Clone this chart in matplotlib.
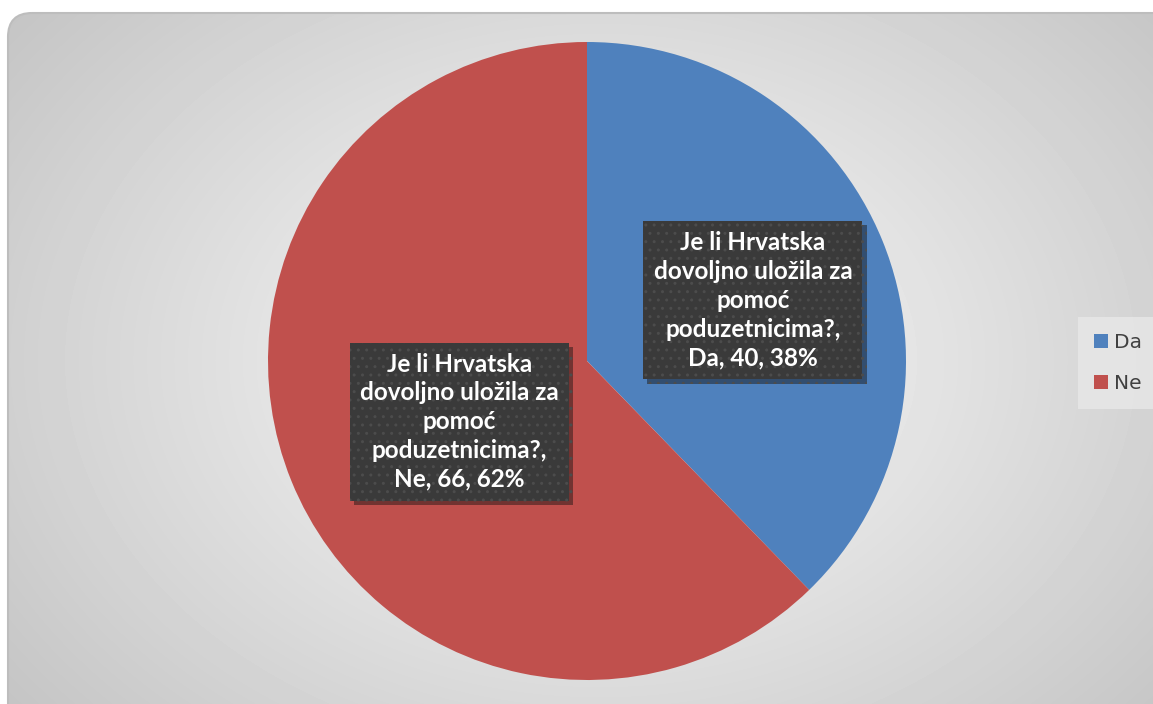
import numpy as np
import matplotlib.pyplot as plt
from matplotlib.patches import FancyBboxPatch
import matplotlib.patheffects as pe

categories = ['Da', 'Ne']
values = [40, 66]
question = 'Je li Hrvatska\ndovoljno uložila za\npomoć\npoduzetnicima?,'
colors = ['#4F81BD', '#C0504D']

W, H = 1153, 704
fig = plt.figure(figsize=(W / 100, H / 100), dpi=100)
fig.patch.set_facecolor('white')

# background: rounded panel with radial grey gradient
bg = fig.add_axes([0, 0, 1, 1])
bg.set_xlim(0, W)
bg.set_ylim(H, 0)
bg.axis('off')
yy, xx = np.mgrid[0:H, 0:W]
r = np.sqrt(((xx - 600) / 700.0) ** 2 + ((yy - 360) / 520.0) ** 2)
g = np.clip(0.985 - 0.2 * r, 0.75, 1)
img = bg.imshow(g, cmap='gray', vmin=0, vmax=1, extent=(0, W, H, 0), zorder=1)
panel = FancyBboxPatch((8, 13), W + 40, H + 40, boxstyle='round,pad=0,rounding_size=24',
                       fc='none', ec='#bdbdbd', lw=1.5, zorder=2)
bg.add_patch(panel)
img.set_clip_path(panel)

# pie
cx, cy, rad = 587, 361, 319
ax = fig.add_axes([(cx - rad) / W, (H - cy - rad) / H, 2 * rad / W, 2 * rad / H])
ax.set_zorder(3)
ax.patch.set_alpha(0)
wedges, _ = ax.pie(values, colors=colors, startangle=90, counterclock=False,
                   wedgeprops=dict(linewidth=0))
ax.set_xlim(-1, 1)
ax.set_ylim(-1, 1)
ax.set_aspect('equal')

total = sum(values)
label_pos = [(0.52, 0.19), (-0.40, -0.19)]
for cat, v, (lx, ly) in zip(categories, values, label_pos):
    pct = round(100 * v / total)
    t = ax.text(lx, ly, f'{question}\n{cat}, {v}, {pct}%', ha='center', va='center',
                color='white', fontsize=17.5, fontweight='bold', family='Lato',
                linespacing=1.3,
                bbox=dict(boxstyle='square,pad=0.42', fc='#3a3a3a', ec='#4c4c4c',
                          lw=0, hatch='..'))
    t.get_bbox_patch().set_path_effects([pe.SimplePatchShadow(offset=(3, -3), alpha=0.45),
                                         pe.Normal()])

leg = fig.legend(wedges, categories, loc='center left',
                 bbox_to_anchor=(1078 / W, 1 - 363 / H), frameon=True,
                 fontsize=14.5, labelspacing=1.1, handlelength=0.7, handleheight=0.7,
                 handletextpad=0.3, borderpad=0.8, borderaxespad=0, fancybox=False)
leg.get_frame().set_facecolor('#e8e8e8')
leg.get_frame().set_edgecolor('none')
leg.set_zorder(5)
for txt in leg.get_texts():
    txt.set_color('#404040')

fig.savefig('out.png', dpi=100)
